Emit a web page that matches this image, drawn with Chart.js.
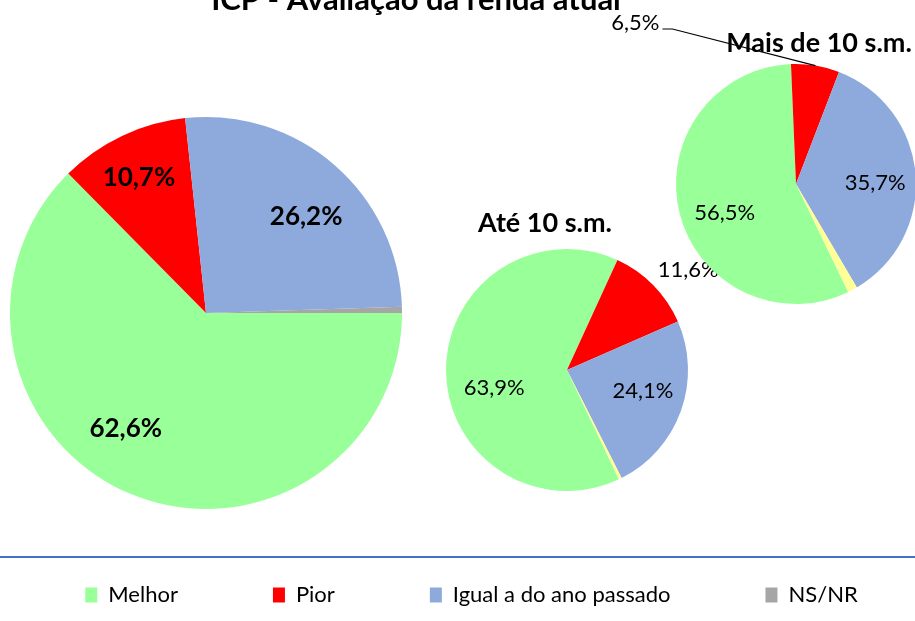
<!DOCTYPE html>
<html>
<head>
<meta charset="utf-8">
<script src="https://cdn.jsdelivr.net/npm/chart.js@4.4.0/dist/chart.umd.min.js"></script>
<style>
html, body { margin: 0; padding: 0; background: #fff; overflow: hidden; }
#wrap { position: relative; width: 915px; height: 621px; overflow: hidden; }
#wrap canvas { position: absolute; left: 0; top: 0; }
#wrap #geral { left: -28px; }
</style>
</head>
<body>
<div id="wrap">
  <canvas id="geral" width="999" height="621"></canvas>
  <canvas id="ate10" width="915" height="621"></canvas>
  <canvas id="mais10" width="915" height="621"></canvas>
</div>
<script>
// categorias e valores (%)
const categorias = ['Melhor', 'Pior', 'Igual a do ano passado', 'NS/NR'];
const geral = [62.6, 10.7, 26.2, 0.5];
const ate10 = [63.9, 11.6, 24.1, 0.4];
const mais10 = [56.5, 6.5, 35.7, 1.3];

const coresGeral = ['#99FF99', '#FF0000', '#8EA9DB', '#A6A6A6'];
const coresFaixa = ['#99FF99', '#FF0000', '#8EA9DB', '#FFFF99'];

Chart.defaults.font.family = 'Lato';
Chart.defaults.color = '#000';

const fmt = v => v.toFixed(1).replace('.', ',') + '%';

// o canvas geral e mais largo (legenda numa linha so) e deslocado 28px
const dx = 28;

// coloca a pizza num quadrado fixo da pagina
const posicao = {
  id: 'posicao',
  afterLayout(chart, args, o) {
    chart.chartArea = {left: o.x - o.r, top: o.y - o.r, right: o.x + o.r, bottom: o.y + o.r,
                       width: 2 * o.r, height: 2 * o.r};
  }
};

const titulo = {
  id: 'titulo',
  beforeDatasetsDraw(chart, args, o) {
    const ctx = chart.ctx;
    ctx.save();
    ctx.font = o.font;
    ctx.fillStyle = '#000';
    ctx.textAlign = 'center';
    ctx.textBaseline = 'alphabetic';
    ctx.fillText(o.text, o.x, o.y);
    if (o.linha) {
      ctx.strokeStyle = '#4472C4';
      ctx.lineWidth = 2;
      ctx.beginPath();
      ctx.moveTo(0, o.linha);
      ctx.lineTo(chart.width, o.linha);
      ctx.stroke();
    }
    ctx.restore();
  }
};

const rotulos = {
  id: 'rotulos',
  afterDatasetsDraw(chart, args, o) {
    const ctx = chart.ctx;
    const meta = chart.getDatasetMeta(0);
    const data = chart.data.datasets[0].data;
    ctx.save();
    ctx.font = o.font;
    ctx.fillStyle = '#000';
    ctx.textAlign = 'center';
    ctx.textBaseline = 'middle';
    meta.data.forEach((arc, i) => {
      const p = o.pos[i];
      if (!p) return;
      const txt = fmt(data[i]);
      const mid = (arc.startAngle + arc.endAngle) / 2;
      let x, y;
      if (p.guia) {
        const ex = arc.x + Math.cos(mid) * arc.outerRadius;
        const ey = arc.y + Math.sin(mid) * arc.outerRadius;
        x = ex + p.guia[0];
        y = ey + p.guia[1];
        const w = ctx.measureText(txt).width;
        ctx.strokeStyle = '#000';
        ctx.lineWidth = 1.2;
        ctx.beginPath();
        ctx.moveTo(x + w / 2 + 3, y + 6);
        ctx.lineTo(x + w / 2 + 13, y + 6);
        ctx.lineTo(ex, ey);
        ctx.stroke();
      } else {
        const a = mid + p.giro * Math.PI / 180;
        x = arc.x + Math.cos(a) * arc.outerRadius * p.raio;
        y = arc.y + Math.sin(a) * arc.outerRadius * p.raio;
      }
      ctx.fillText(txt, x, y);
    });
    ctx.restore();
  }
};

function pizza(id, valores, cores, rotacao, extra) {
  return new Chart(document.getElementById(id), {
    type: 'pie',
    data: {
      labels: categorias,
      datasets: [{
        data: valores,
        backgroundColor: cores,
        borderWidth: 0,
        hoverOffset: 0,
        clip: false
      }]
    },
    options: Object.assign({
      responsive: false,
      animation: false,
      events: [],
      rotation: rotacao
    }, extra),
    plugins: [posicao, titulo, rotulos]
  });
}

pizza('geral', geral, coresGeral, 90, {
  layout: {padding: {left: 0, right: 0, top: 0, bottom: 5}},
  plugins: {
    posicao: {x: 206 + dx, y: 313, r: 196},
    titulo: {text: 'ICP - Avaliação da renda atual', x: 416 + dx, y: 10, font: 'bold 31px Lato', linha: 557},
    rotulos: {font: 'bold 26px Lato', pos: [
      {raio: 0.72, giro: 12}, {raio: 0.77, giro: -1}, {raio: 0.71, giro: 5}, null]},
    legend: {
      position: 'bottom',
      labels: {boxWidth: 12, boxHeight: 15, padding: 95, font: {size: 22}, color: '#000'}
    },
    tooltip: {enabled: false}
  }
});

pizza('ate10', ate10, coresFaixa, 154.6, {
  plugins: {
    posicao: {x: 567, y: 370, r: 121},
    titulo: {text: 'Até 10 s.m.', x: 545, y: 232, font: 'bold 27px Lato'},
    rotulos: {font: '22px Lato', pos: [
      {raio: 0.62, giro: -13.6}, {raio: 1.30, giro: 4.9}, {raio: 0.65, giro: -4.4}, null]},
    legend: {display: false},
    tooltip: {enabled: false}
  }
});

pizza('mais10', mais10, coresFaixa, 154.2, {
  plugins: {
    posicao: {x: 796, y: 184, r: 120},
    titulo: {text: 'Mais de 10 s.m.', x: 819, y: 52, font: 'bold 27px Lato'},
    rotulos: {font: '22px Lato', pos: [
      {raio: 0.64, giro: -7.9}, {guia: [-180, -42.6]}, {raio: 0.66, giro: 4}, null]},
    legend: {display: false},
    tooltip: {enabled: false}
  }
});
</script>
</body>
</html>
